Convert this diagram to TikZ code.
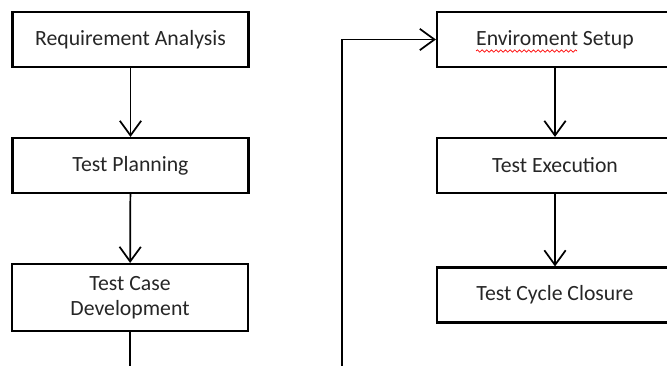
\documentclass[tikz,border=0pt]{standalone}
\usepackage{fontspec}
\setmainfont{Carlito}
\usetikzlibrary{arrows.meta,decorations.pathmorphing}

\begin{document}
\begin{tikzpicture}[x=0.75pt, y=-0.75pt]
		\tikzstyle {stage} = [draw, line width=1.6pt, minimum width=177pt, minimum height=41.25pt, inner sep=0pt, align=center, text=black!85, font=\fontsize{16.3}{19}\selectfont]
		\tikzstyle {flow} = [line width=1.3pt, -{Straight Barb[length=11pt, width=16pt, line width=1.3pt]}]

		\useasboundingbox (0,0) rectangle (667,365);
		\clip (0,0) rectangle (667,365);

		% left column
		\node[stage] (req) at (130.5, 39.5) {Requirement Analysis};
		\node[stage] (plan) at (130.5, 165.5) {Test Planning};
		\node[stage, minimum height=50.25pt] (dev) at (130, 297.5) {Test Case\\Development};

		% right column
		\node[stage] (env) at (555, 39.5) {Enviroment Setup};
		\node[stage] (exec) at (555, 165.5) {Test Execution};
		\node[stage] (close) at (555, 295) {Test Cycle Closure};

		\coordinate (devout) at (130, 375);
		\coordinate (loopin) at (342, 375);

		\draw[flow] (req) -- (plan);
		\draw[flow] (plan) -- (dev);
		\draw[line width=1.3pt] (dev) -- (devout);
		\draw[flow] (loopin) |- (env.west);
		\draw[flow] (env) -- (exec);
		\draw[flow] (exec) -- (close);

		% spell check mark
		\draw[red, line width=0.5pt, decorate, decoration={snake, amplitude=0.9pt, segment length=3.5pt}] (476, 51) -- (577, 51);
\end{tikzpicture}
\end{document}
